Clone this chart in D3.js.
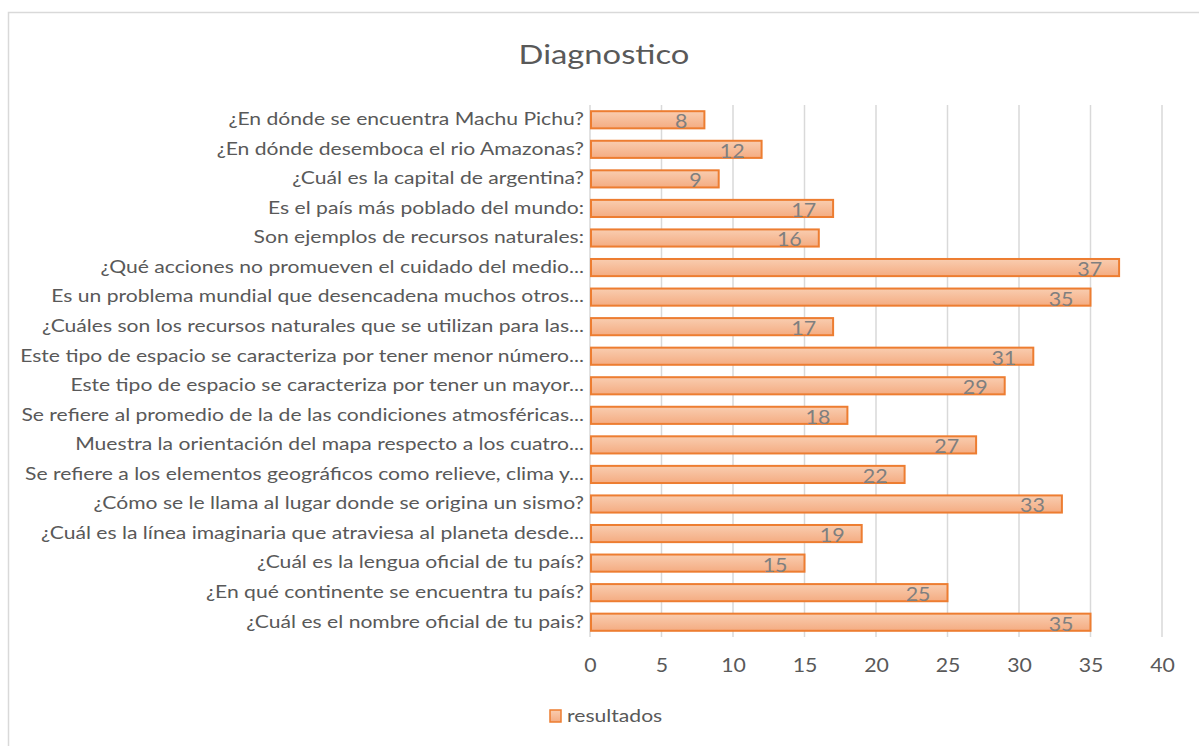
<!DOCTYPE html>
<html><head><meta charset="utf-8">
<script src="https://cdn.jsdelivr.net/npm/d3@7"></script>
<style>body{margin:0;background:#fff;}svg{display:block;}</style>
</head><body>
<svg id="c" width="1199" height="746"></svg>
<script>
const categories = [
"¿En dónde se encuentra Machu Pichu?",
"¿En dónde desemboca el rio Amazonas?",
"¿Cuál es la capital de argentina?",
"Es el país más poblado del mundo:",
"Son ejemplos de recursos naturales:",
"¿Qué acciones no promueven el cuidado del medio...",
"Es un problema mundial que desencadena muchos otros...",
"¿Cuáles son los recursos naturales que se utilizan para las...",
"Este tipo de espacio se caracteriza por tener menor número...",
"Este tipo de espacio se caracteriza por tener un mayor...",
"Se refiere al promedio de la de las condiciones atmosféricas...",
"Muestra la orientación del mapa respecto a los cuatro...",
"Se refiere a los elementos geográficos como relieve, clima y...",
"¿Cómo se le llama al lugar donde se origina un sismo?",
"¿Cuál es la línea imaginaria que atraviesa al planeta desde...",
"¿Cuál es la lengua oficial de tu país?",
"¿En qué continente se encuentra tu país?",
"¿Cuál es el nombre oficial de tu pais?"
];
const values = [8,12,9,17,16,37,35,17,31,29,18,27,22,33,19,15,25,35];
const xTicks = [0,5,10,15,20,25,30,35,40];
const seriesName = "resultados";
const title = "Diagnostico";

const svg = d3.select("#c");
const font = "Lato, 'Open Sans', sans-serif";
const gray = "#595959";
const SX = "scale(1.28,1)";

const defs = svg.append("defs");
const grad = defs.append("linearGradient").attr("id","g").attr("x1",0).attr("y1",0).attr("x2",0).attr("y2",1);
grad.append("stop").attr("offset","0%").attr("stop-color","#f9cdb0");
grad.append("stop").attr("offset","100%").attr("stop-color","#f4ac82");

svg.append("rect").attr("x",8.5).attr("y",12.5).attr("width",1200).attr("height",760)
  .attr("fill","#fff").attr("stroke","#d9d9d9").attr("stroke-width",1.5);

const x = d3.scaleLinear().domain([0,40]).range([590,1162]);
const y = d3.scaleBand().domain(categories).range([105,637]).paddingInner(0.42).paddingOuter(0.21);

svg.append("text").attr("transform","translate(604,64) scale(1.26,1)").attr("text-anchor","middle")
  .attr("font-family",font).attr("font-size",26).attr("fill",gray).text(title);

svg.append("g").selectAll("line").data(xTicks).join("line")
  .attr("x1",d=>x(d)).attr("x2",d=>x(d)).attr("y1",105).attr("y2",637)
  .attr("stroke","#d9d9d9").attr("stroke-width",1.5);

const xAxis = svg.append("g").attr("transform","translate(0,659)")
  .call(d3.axisBottom(x).tickValues(xTicks).tickSize(0).tickPadding(0));
xAxis.select(".domain").remove();
xAxis.selectAll("text").attr("font-family",font).attr("font-size",18.5).attr("fill",gray)
  .attr("dy","0.71em").attr("transform","scale(1.15,1)");

const yAxis = svg.append("g").attr("transform","translate(584,0)")
  .call(d3.axisLeft(y).tickSize(0).tickPadding(0));
yAxis.select(".domain").remove();
yAxis.selectAll("text").attr("font-family",font).attr("font-size",16.5).attr("fill",gray)
  .attr("transform",SX);

svg.append("g").selectAll("rect").data(values).join("rect")
  .attr("x",x(0)+1).attr("y",(d,i)=>y(categories[i]))
  .attr("width",d=>x(d)-x(0)-1).attr("height",y.bandwidth())
  .attr("fill","url(#g)").attr("stroke","#ed7d31").attr("stroke-width",2);

svg.append("g").selectAll("text").data(values).join("text")
  .attr("transform",(d,i)=>`translate(${x(d)-17},${y(categories[i])+y.bandwidth()/2+1}) scale(1.1,1)`)
  .attr("dy","0.38em").attr("text-anchor","end")
  .attr("font-family",font).attr("font-size",19.5).attr("fill","#7f7f7f").text(d=>d);

const lg = svg.append("g");
lg.append("rect").attr("x",550).attr("y",710).attr("width",11).attr("height",12)
  .attr("fill","url(#g)").attr("stroke","#ed7d31").attr("stroke-width",1.5);
lg.append("text").attr("transform","translate(567,716) "+SX).attr("dy","0.36em")
  .attr("font-family",font).attr("font-size",16.5).attr("fill",gray).text(seriesName);
</script>
</body></html>
